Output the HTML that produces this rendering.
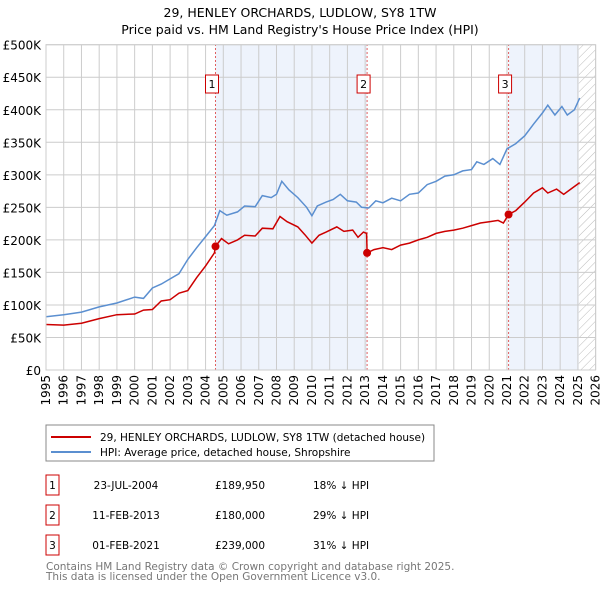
<!DOCTYPE html>
<html><head><meta charset="utf-8"><style>
body{margin:0;background:#fff;font-family:"Liberation Sans","DejaVu Sans",sans-serif;}
svg text{font-family:"DejaVu Sans","Liberation Sans",sans-serif;}
</style></head><body>
<svg width="600" height="590" xmlns="http://www.w3.org/2000/svg" id="chart">
<defs><pattern id="hatch" width="6" height="6" patternUnits="userSpaceOnUse" patternTransform="rotate(45)"><line x1="0" y1="0" x2="0" y2="6" stroke="#bbb" stroke-width="1"/></pattern></defs>
<text x="300" y="17" text-anchor="middle" font-size="12.5">29, HENLEY ORCHARDS, LUDLOW, SY8 1TW</text>
<text x="300" y="34" text-anchor="middle" font-size="12.5">Price paid vs. HM Land Registry's House Price Index (HPI)</text>
<g id="plot"></g>
<g>
<rect x="46" y="425" width="388" height="36" fill="#fff" stroke="#888"/>
<line x1="51" y1="437" x2="91" y2="437" stroke="#cc0000" stroke-width="2"/>
<text x="100" y="441" font-size="10.5">29, HENLEY ORCHARDS, LUDLOW, SY8 1TW (detached house)</text>
<line x1="51" y1="452" x2="91" y2="452" stroke="#5b8fd0" stroke-width="2"/>
<text x="100" y="456" font-size="10.5">HPI: Average price, detached house, Shropshire</text>
</g>
<g id="table" font-size="10.5"></g>
<text x="46" y="570" font-size="10.5" fill="#777">Contains HM Land Registry data © Crown copyright and database right 2025.</text>
<text x="46" y="580" font-size="10.5" fill="#777">This data is licensed under the Open Government Licence v3.0.</text>
</svg>
<script>
const yTicks=[0,50,100,150,200,250,300,350,400,450,500];
const years=[1995,1996,1997,1998,1999,2000,2001,2002,2003,2004,2005,2006,2007,2008,2009,2010,2011,2012,2013,2014,2015,2016,2017,2018,2019,2020,2021,2022,2023,2024,2025,2026];
const hpiT=[1995,1996,1997,1998,1999,2000,2000.5,2001,2001.5,2002,2002.5,2003,2003.5,2004,2004.5,2004.8,2005.2,2005.8,2006.2,2006.8,2007.2,2007.7,2008,2008.3,2008.7,2009.2,2009.7,2010,2010.3,2010.8,2011.2,2011.6,2012,2012.5,2012.8,2013.2,2013.6,2014,2014.5,2015,2015.5,2016,2016.5,2017,2017.5,2018,2018.5,2019,2019.3,2019.7,2020.2,2020.6,2021,2021.5,2022,2022.5,2023,2023.3,2023.7,2024.1,2024.4,2024.8,2025.1];
const hpiV=[82,85,89,97,103,112,110,126,132,140,148,170,188,205,222,245,238,243,252,251,268,265,270,290,277,265,250,237,252,258,262,270,260,258,250,249,260,257,264,260,270,272,285,290,298,300,306,308,320,316,325,316,340,348,360,378,395,407,392,405,392,400,418];
const ppT=[1995,1996,1997,1998,1999,2000,2000.5,2001,2001.5,2002,2002.5,2003,2003.5,2004,2004.5,2004.56,2004.9,2005.3,2005.8,2006.2,2006.8,2007.2,2007.8,2008.2,2008.6,2009.2,2009.6,2010,2010.4,2010.8,2011.4,2011.8,2012.3,2012.6,2012.9,2013.08,2013.11,2013.5,2014,2014.5,2015,2015.5,2016,2016.5,2017,2017.5,2018,2018.5,2019,2019.5,2020,2020.5,2020.8,2021.09,2021.5,2022,2022.5,2023,2023.3,2023.8,2024.2,2024.6,2025.1];
const ppV=[70,69,72,79,85,86,92,93,106,108,118,122,142,160,180,190,202,194,200,207,206,218,217,236,228,220,208,195,207,212,220,213,215,204,212,210,180,185,188,185,192,195,200,204,210,213,215,218,222,226,228,230,226,239,245,258,272,280,272,278,270,278,288];
const saleT=[2004.56,2013.11,2021.09];
const saleV=[189.95,180,239];
const saleLabels=["1","2","3"];
const saleDates=["23-JUL-2004","11-FEB-2013","01-FEB-2021"];
const salePrices=["£189,950","£180,000","£239,000"];
const saleHpi=["18% ↓ HPI","29% ↓ HPI","31% ↓ HPI"];
const NS="http://www.w3.org/2000/svg";
const X0=46,PX=17.73,Y0=370,PY=325.3/500000;
const sx=t=>X0+(t-1995)*PX, sy=v=>Y0-v*PY;
const plot=document.getElementById('plot');
function mk(tag,attrs,parent){const e=document.createElementNS(NS,tag);for(const k in attrs)e.setAttribute(k,attrs[k]);(parent||plot).appendChild(e);return e;}
const s1=mk('rect',{x:sx(saleT[0]),y:sy(500000),width:sx(saleT[1])-sx(saleT[0]),height:sy(0)-sy(500000),fill:'#eef3fc'});


const s2=mk('rect',{x:sx(saleT[2]),y:sy(500000),width:sx(2025.05)-sx(saleT[2]),height:sy(0)-sy(500000),fill:'#eef3fc'});


const h=mk('rect',{x:sx(2025.05),y:sy(500000),width:sx(2026)-sx(2025.05),height:sy(0)-sy(500000),fill:'url(#hatch)'});


yTicks.forEach(v=>{
 const l=mk('line',{x1:X0,x2:sx(2026),y1:sy(v*1000),y2:sy(v*1000),stroke:'#ccc'});
 
 
 const t=mk('text',{x:41,y:sy(v*1000)+5,'text-anchor':'end','font-size':'12'});
 t.textContent=v===0?'£0':'£'+v+'K';
 
 
});
years.forEach(y=>{
 const l=mk('line',{x1:sx(y),x2:sx(y),y1:sy(0),y2:sy(500000),stroke:'#ccc'});
 
 
 const t=mk('text',{x:0,y:0,'text-anchor':'end','font-size':'12',transform:`translate(${sx(y)+4},375) rotate(-90)`});
 t.textContent=y;
 
 
});
saleT.forEach((t,i)=>{
 const l=mk('line',{x1:sx(t),x2:sx(t),y1:sy(0),y2:sy(500000),stroke:'#e06060','stroke-dasharray':'2,2'});
 
 
 const r=mk('rect',{x:sx(t)-10,y:75,width:13,height:18,fill:'#fff',stroke:'#cc0000'});
 
 
 const tx=mk('text',{x:sx(t)-3.5,y:88,'text-anchor':'middle','font-size':'11'});
 tx.textContent=saleLabels[i];
 
 
});
const path=(T,V)=>T.map((t,i)=>(i?'L':'M')+sx(t).toFixed(1)+','+sy(V[i]*1000).toFixed(1)).join('');
const hl=mk('path',{d:path(hpiT,hpiV),fill:'none',stroke:'#5b8fd0','stroke-width':1.5});


const pl=mk('path',{d:path(ppT,ppV),fill:'none',stroke:'#cc0000','stroke-width':1.5});


saleT.forEach((t,i)=>{
 const c=mk('circle',{cx:sx(t),cy:sy(saleV[i]*1000),r:4,fill:'#cc0000'});
 
 
});
const pb=mk('rect',{x:X0,y:sy(500000),width:sx(2026)-X0,height:sy(0)-sy(500000),fill:'none',stroke:'#ccc'});


const tb=document.getElementById('table');
saleLabels.forEach((s,i)=>{
 const y=483+i*30;
 const b=mk('rect',{x:46,y:y-8,width:13,height:20,fill:'#fff',stroke:'#cc0000'},tb);
 
 
 const cells=[[52.5,s,'middle'],[126,saleDates[i],'middle'],[240,salePrices[i],'middle'],[313,saleHpi[i],'start']];
 cells.forEach(c=>{
  const t=mk('text',{x:c[0],y:y+6,'text-anchor':c[2]},tb);
  t.textContent=c[1];
  
  
 });
});
</script>
</body></html>
